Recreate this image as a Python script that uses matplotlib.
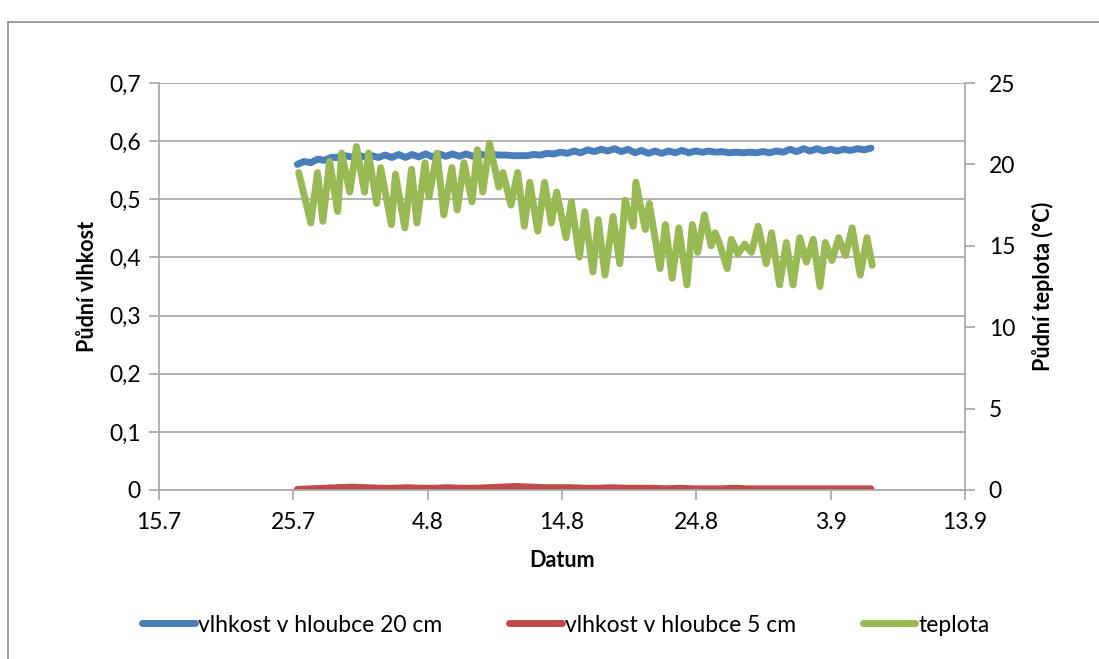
import numpy as np
import matplotlib
matplotlib.use("Agg")
import matplotlib.pyplot as plt
import matplotlib.dates as mdates
from matplotlib.lines import Line2D
import datetime as dt

plt.rcParams['font.family'] = ['Lato', 'DejaVu Sans']

# ---------------- data ----------------
start_date = dt.datetime(2012, 7, 15)          # 15.7 = axis origin
end_date = dt.datetime(2012, 9, 13)            # 13.9 = axis end
tick_step_days = 10

# temperature (°C) – daily extremes, time in days after 15.7
temp_days = [10.4, 11.3, 11.8, 12.2, 12.7, 13.3, 13.6, 14.2, 14.7, 15.3, 15.6, 16.2,
             16.5, 17.3, 17.6, 18.3, 18.8, 19.2, 19.8, 20.1, 20.7, 21.2, 21.8, 22.2,
             22.7, 23.3, 23.7, 24.1, 24.6, 25.3, 25.6, 26.2, 26.7, 27.2, 27.6, 28.2,
             28.7, 29.2, 29.6, 30.3, 30.7, 31.3, 31.7, 32.3, 32.7, 33.2, 33.8, 34.3,
             34.7, 35.3, 35.5, 36.2, 36.5, 37.3, 37.7, 38.2, 38.7, 39.3, 39.7, 40.1,
             40.6, 41.1, 41.4, 41.7, 42.3, 42.6, 43.1, 43.6, 44.1, 44.6, 45.2, 45.6,
             46.2, 46.7, 47.2, 47.7, 48.2, 48.7, 49.2, 49.6, 50.1, 50.6, 51.1, 51.6,
             52.2, 52.7, 53.1]
temp_values = [19.5, 16.4, 19.5, 16.5, 20.2, 17.1, 20.7, 18.3, 21.1, 18.3, 20.7, 17.6,
               19.8, 16.3, 19.4, 16.1, 19.7, 16.4, 20.1, 18.0, 20.7, 16.9, 19.8, 17.2,
               20.1, 17.7, 20.9, 18.3, 21.3, 18.6, 19.5, 17.5, 19.5, 16.2, 18.9, 15.9,
               18.9, 16.4, 18.3, 15.5, 17.7, 14.3, 17.1, 13.4, 16.6, 13.2, 16.8, 13.9,
               17.8, 16.2, 18.9, 16.0, 17.6, 13.6, 16.3, 13.0, 16.1, 12.6, 16.3, 14.6,
               16.9, 15.0, 15.8, 15.2, 13.6, 15.4, 14.5, 15.1, 14.6, 16.2, 13.9, 15.8,
               12.6, 15.2, 12.6, 15.5, 14.0, 15.4, 12.5, 15.2, 14.1, 15.5, 14.4, 16.1,
               13.2, 15.5, 13.8]

# soil moisture at 20 cm – half-day readings from day 10.3 to 53.0
moist20_first_day = 10.3
moist20_last_day = 53.0
moist20_values = [0.560, 0.565, 0.563, 0.569, 0.567, 0.572,
                  0.572, 0.575, 0.573, 0.575, 0.573, 0.575, 0.572, 0.576, 0.572, 0.577, 0.572, 0.577,
                  0.573, 0.578, 0.573, 0.578, 0.574, 0.578, 0.574, 0.578, 0.574, 0.578, 0.575, 0.577,
                  0.576, 0.576, 0.575, 0.575, 0.575, 0.577, 0.576, 0.579,
                  0.578, 0.581, 0.579, 0.583, 0.580, 0.585, 0.582, 0.586, 0.583, 0.587, 0.582, 0.586,
                  0.580, 0.584, 0.579, 0.583, 0.579, 0.583, 0.580, 0.584, 0.580, 0.583,
                  0.581, 0.583, 0.581, 0.582, 0.580, 0.581, 0.580, 0.581, 0.580, 0.582, 0.580, 0.583,
                  0.581, 0.586, 0.582, 0.587, 0.583, 0.587, 0.583, 0.586, 0.583, 0.586, 0.584, 0.587,
                  0.585, 0.588]

# soil moisture at 5 cm – daily readings from day 10.3 to 53.0
moist5_first_day = 10.3
moist5_last_day = 53.0
moist5_values = [0.001, 0.002, 0.003, 0.004, 0.005, 0.004, 0.003, 0.003, 0.004, 0.003,
                 0.003, 0.004, 0.003, 0.003, 0.004, 0.005, 0.006, 0.005, 0.004, 0.004,
                 0.004, 0.003, 0.003, 0.004, 0.003, 0.003, 0.003, 0.002, 0.003, 0.002,
                 0.002, 0.002, 0.003, 0.002, 0.002, 0.002, 0.002, 0.002, 0.002, 0.002,
                 0.002, 0.002, 0.002]

series_labels = ["vlhkost v hloubce 20 cm", "vlhkost v hloubce 5 cm", "teplota"]
colors = ["#4a7ebb", "#be4b48", "#98b954"]

# ---------------- figure ----------------
def to_dates(days):
    return [start_date + dt.timedelta(days=float(d)) for d in days]

m20_days = np.linspace(moist20_first_day, moist20_last_day, len(moist20_values))
m5_days = np.linspace(moist5_first_day, moist5_last_day, len(moist5_values))

fig = plt.figure(figsize=(10.99, 6.59), dpi=100)
ax = fig.add_axes([159 / 1099, 1 - 490 / 659, (965 - 159) / 1099, (490 - 83) / 659])
ax2 = ax.twinx()

grid_c = "#a6a6a6"
lw = 5.0
style = dict(lw=lw, solid_capstyle='round', solid_joinstyle='round')
l1, = ax.plot(to_dates(m20_days), moist20_values, color=colors[0], label=series_labels[0], **style)
l2, = ax.plot(to_dates(m5_days), moist5_values, color=colors[1], label=series_labels[1], **style)
l3, = ax2.plot(to_dates(temp_days), temp_values, color=colors[2], label=series_labels[2], **style)

ax.set_xlim(start_date, end_date)
ax.set_ylim(0, 0.7)
ax2.set_ylim(0, 25)
ax.set_yticks(np.arange(0, 0.71, 0.1))
ax2.set_yticks(np.arange(0, 26, 5))
ax.yaxis.set_major_formatter(plt.FuncFormatter(
    lambda v, p: "0" if abs(v) < 1e-9 else f"{v:.1f}".replace(".", ",")))
ax2.yaxis.set_major_formatter(plt.FuncFormatter(lambda v, p: f"{v:.0f}"))

xticks = [start_date + dt.timedelta(days=i) for i in range(0, (end_date - start_date).days + 1, tick_step_days)]
ax.set_xticks(xticks)
ax.xaxis.set_major_formatter(plt.FuncFormatter(
    lambda v, p: f"{mdates.num2date(v).day}.{mdates.num2date(v).month}"))

ax.grid(axis='y', color=grid_c, lw=1.2)
ax.set_axisbelow(True)
for a in (ax, ax2):
    for s in a.spines.values():
        s.set_visible(False)
    a.tick_params(colors=grid_c, labelcolor='black', labelsize=16.5, length=7, width=1.2)
ax.spines['left'].set_visible(True)
ax.spines['bottom'].set_visible(True)
ax2.spines['right'].set_visible(True)
for s in (ax.spines['left'], ax.spines['bottom'], ax2.spines['right']):
    s.set_color(grid_c)
    s.set_linewidth(1.2)
ax.tick_params(axis='x', pad=9)
ax.tick_params(axis='y', pad=6)
ax2.tick_params(axis='y', pad=10)

ax.set_xlabel("Datum", fontsize=15.5, fontweight='bold', labelpad=12)
ax.set_ylabel("Půdní vlhkost", fontsize=15.5, fontweight='bold', labelpad=8)
ax2.set_ylabel("Půdní teplota (°C)", fontsize=15.5, fontweight='bold', labelpad=12)

fig.legend(handles=[l1, l2, l3], loc='center', bbox_to_anchor=(0.515, 1 - 625 / 659),
           ncol=3, frameon=False, fontsize=16.5, handlelength=2.3, handletextpad=0.15,
           columnspacing=2.9)

# outer chart frame
fig.add_artist(Line2D([8 / 1099, 8 / 1099], [0, 1 - 22 / 659], transform=fig.transFigure,
                      color="#8c8c8c", lw=1.2))
fig.add_artist(Line2D([8 / 1099, 1.0], [1 - 22 / 659, 1 - 22 / 659], transform=fig.transFigure,
                      color="#8c8c8c", lw=1.2))

fig.savefig("out.png", dpi=100)
